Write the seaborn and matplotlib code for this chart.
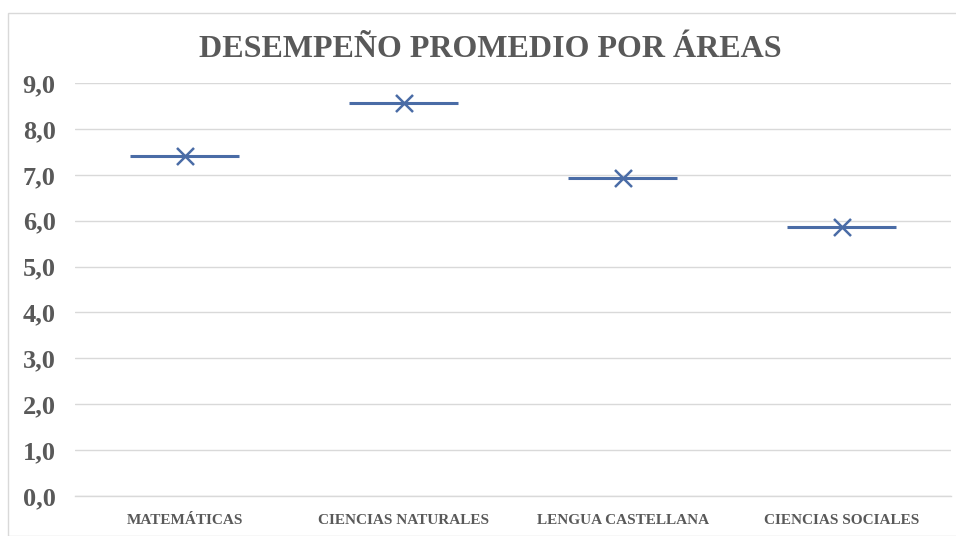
import matplotlib
matplotlib.use("Agg")
import matplotlib.pyplot as plt
import seaborn as sns
import pandas as pd
from matplotlib.patches import Rectangle

areas = ["MATEMÁTICAS", "CIENCIAS NATURALES", "LENGUA CASTELLANA", "CIENCIAS SOCIALES"]
promedios = [7.4, 8.56, 6.94, 5.87]
y_ticks = [0, 1, 2, 3, 4, 5, 6, 7, 8, 9]
y_labels = ["0,0", "1,0", "2,0", "3,0", "4,0", "5,0", "6,0", "7,0", "8,0", "9,0"]
titulo = "DESEMPEÑO PROMEDIO POR ÁREAS"

sns.set_theme(style="white")
plt.rcParams['font.family'] = ['Liberation Serif', 'DejaVu Serif']

df = pd.DataFrame({"area": areas, "valor": promedios})
df["pos"] = range(len(areas))

fig = plt.figure(figsize=(9.56, 5.36), dpi=100)
ax = fig.add_axes([0.0785, 0.0746, 0.9165, 0.7704])

col = "#4A6CA6"
ax.errorbar(df["pos"], df["valor"], xerr=0.25, fmt="none", ecolor=col,
            elinewidth=2.2, capsize=0, zorder=3)
sns.scatterplot(data=df, x="pos", y="valor", marker="x", s=150, color=col,
                linewidth=1.8, ax=ax, zorder=4, legend=False)

ax.set_xlim(-0.5, 3.5)
ax.set_ylim(0, 9)
ax.set_yticks(y_ticks)
ax.set_yticklabels(y_labels)
ax.set_xticks(range(len(areas)))
ax.set_xticklabels(areas)
ax.set_xlabel("")
ax.set_ylabel("")
ax.grid(axis="y", color="#D9D9D9", linewidth=1.0)
ax.set_axisbelow(True)
for s in ["top", "left", "right"]:
    ax.spines[s].set_visible(False)
ax.spines["bottom"].set_color("#D9D9D9")
ax.spines["bottom"].set_linewidth(1.0)
ax.tick_params(axis="y", length=0, pad=14, labelsize=19, labelcolor="#595959")
ax.tick_params(axis="x", length=0, pad=13, labelsize=11, labelcolor="#595959")
for t in ax.get_yticklabels() + ax.get_xticklabels():
    t.set_fontweight("bold")

fig.text(0.513, 0.908, titulo, ha="center", va="center", fontsize=23,
         fontweight="bold", color="#595959")

fig.patches.append(Rectangle((8 / 956, 0), 1, 1 - 13 / 536, transform=fig.transFigure,
                             fill=False, edgecolor="#D9D9D9", linewidth=1.0))

fig.savefig("out.png", dpi=100, facecolor="white")
